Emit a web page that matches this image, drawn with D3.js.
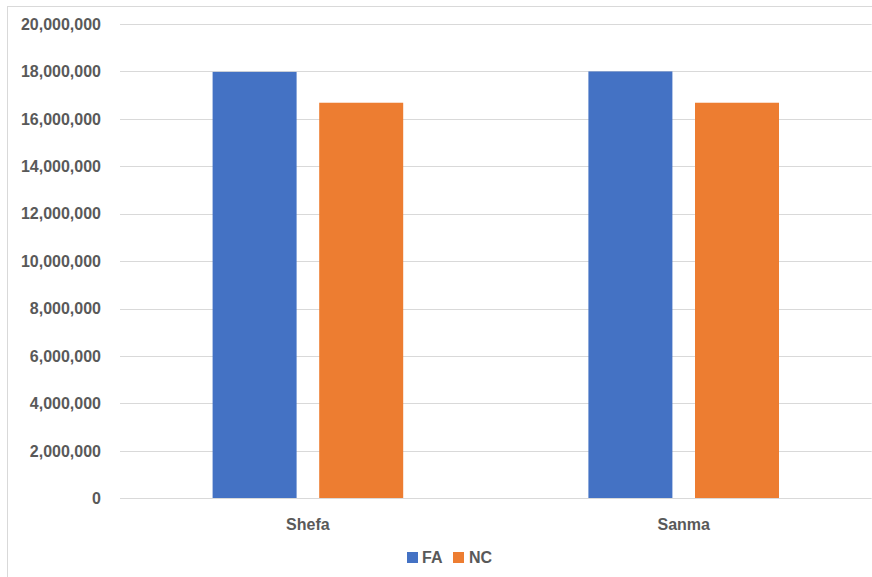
<!DOCTYPE html>
<html>
<head>
<meta charset="utf-8">
<script src="https://cdn.jsdelivr.net/npm/d3@7"></script>
<style>
  html, body { margin: 0; padding: 0; background: #fff; }
  svg { display: block; }
  text { font-family: "Liberation Sans", Arial, sans-serif; font-weight: bold; fill: #595959; }
</style>
</head>
<body>
<svg id="chart" width="872" height="577"></svg>
<script>
// Regions along the x axis
const regions = ["Shefa", "Sanma"];
// Series values per region
const seriesNames = ["FA", "NC"];
const faValues = [17980000, 18000000];
const ncValues = [16680000, 16680000];
// Y axis ticks
const yTicks = [0, 2000000, 4000000, 6000000, 8000000, 10000000, 12000000, 14000000, 16000000, 18000000, 20000000];

const colors = { FA: "#4472C4", NC: "#ED7D31" };

const svg = d3.select("#chart");
const W = 872, H = 577;

// Outer chart frame
svg.append("rect")
  .attr("x", 7.5).attr("y", 6.5)
  .attr("width", W + 10).attr("height", H + 10)
  .attr("fill", "#fff").attr("stroke", "#d9d9d9").attr("stroke-width", 1);

const plot = { left: 120, right: 871.6, top: 24, bottom: 498.3 };

const x0 = d3.scaleBand()
  .domain(regions)
  .range([plot.left, plot.right])
  .paddingInner(0).paddingOuter(0);

const y = d3.scaleLinear()
  .domain([0, 20000000])
  .range([plot.bottom, plot.top]);

// Bars: 84px wide within a 375.8px band, 22.6px between series
const bandW = x0.bandwidth();
const barW = bandW * 84 / 375.8;
const gap = bandW * 22.6 / 375.8;
const groupW = barW * 2 + gap;
const x1 = d3.scaleOrdinal()
  .domain(seriesNames)
  .range([(bandW - groupW) / 2, (bandW - groupW) / 2 + barW + gap]);

// Gridlines
svg.append("g")
  .selectAll("line")
  .data(yTicks.filter(d => d > 0))
  .join("line")
  .attr("x1", plot.left).attr("x2", plot.right)
  .attr("y1", d => Math.round(y(d)) + 0.5)
  .attr("y2", d => Math.round(y(d)) + 0.5)
  .attr("stroke", "#d9d9d9").attr("stroke-width", 1);

// Y axis labels
const fmt = d3.format(",");
svg.append("g")
  .selectAll("text")
  .data(yTicks)
  .join("text")
  .attr("x", 101)
  .attr("y", d => y(d))
  .attr("dy", "0.36em")
  .attr("text-anchor", "end")
  .attr("font-size", 16)
  .text(d => fmt(d));

// Bars
const rows = regions.map((r, i) => ({ region: r, FA: faValues[i], NC: ncValues[i] }));
const groups = svg.append("g")
  .selectAll("g")
  .data(rows)
  .join("g")
  .attr("transform", d => `translate(${x0(d.region)},0)`);

groups.selectAll("rect")
  .data(d => seriesNames.map(s => ({ key: s, value: d[s] })))
  .join("rect")
  .attr("x", d => x1(d.key))
  .attr("y", d => y(d.value))
  .attr("width", barW)
  .attr("height", d => y(0) - y(d.value))
  .attr("fill", d => colors[d.key]);

// Baseline
svg.append("line")
  .attr("x1", plot.left).attr("x2", plot.right)
  .attr("y1", Math.round(y(0)) + 0.5).attr("y2", Math.round(y(0)) + 0.5)
  .attr("stroke", "#d9d9d9").attr("stroke-width", 1);

// Category labels
svg.append("g")
  .selectAll("text")
  .data(regions)
  .join("text")
  .attr("x", d => x0(d) + bandW / 2)
  .attr("y", 530)
  .attr("text-anchor", "middle")
  .attr("font-size", 16)
  .text(d => d);

// Legend
const legend = svg.append("g");
const legendItems = [
  { key: "FA", sx: 407, tx: 422 },
  { key: "NC", sx: 453, tx: 469 }
];
legend.selectAll("rect")
  .data(legendItems)
  .join("rect")
  .attr("x", d => d.sx).attr("y", 552)
  .attr("width", 11).attr("height", 11)
  .attr("fill", d => colors[d.key]);
legend.selectAll("text")
  .data(legendItems)
  .join("text")
  .attr("x", d => d.tx).attr("y", 563)
  .attr("font-size", 16)
  .text(d => d.key);
</script>
</body>
</html>
